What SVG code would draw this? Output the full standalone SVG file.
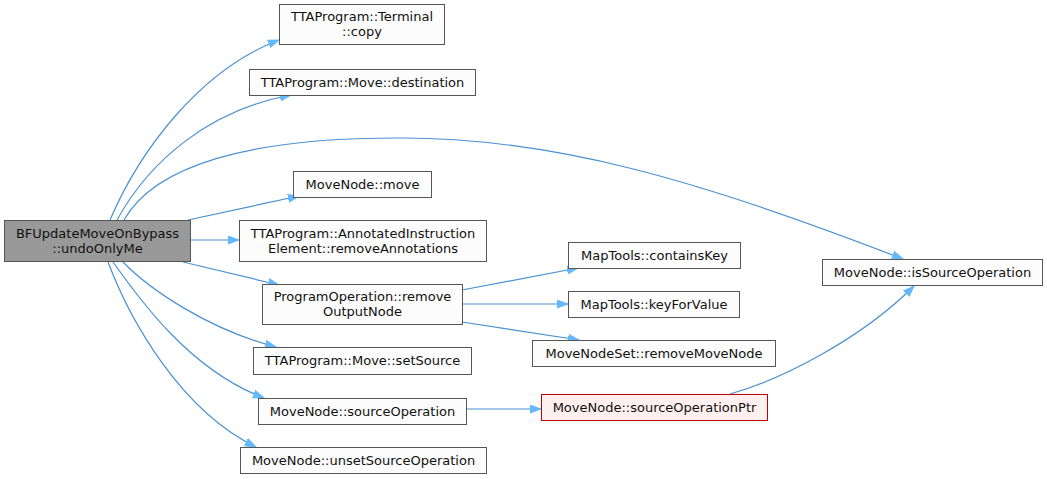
<svg xmlns="http://www.w3.org/2000/svg" width="1047" height="479" viewBox="0 0 1047 479">
<defs>
<style>
.n rect{fill:#fbfcfb;stroke:#555555;stroke-width:1}
.n text{font-family:"DejaVu Sans",sans-serif;font-size:13px;fill:#111111;text-anchor:middle}
#main rect{fill:#999999;stroke:#555555}
#ptr rect{fill:#fff0f0;stroke:#c00000}
.e path{fill:none;stroke:#4a90d2;stroke-width:1.2}
</style>
<marker id="ah" markerUnits="userSpaceOnUse" markerWidth="12" markerHeight="9" refX="11" refY="4.5" orient="auto">
<path d="M0,0.5 L11,4.5 L0,8.5 z" fill="#63b8ff" stroke="#63b8ff" stroke-width="1"/>
</marker>
</defs>
<rect width="1047" height="479" fill="#ffffff"/>
<g class="e">
<path marker-end="url(#ah)" d="M110,220 C140,150 200,70 279,40"/>
<path marker-end="url(#ah)" d="M117,220 C150,160 210,110 291,95"/>
<path marker-end="url(#ah)" d="M124,220 C155,165 250,138 397,138 C550,137 700,180 903,259"/>
<path marker-end="url(#ah)" d="M188,220 L299,196"/>
<path marker-end="url(#ah)" d="M190,240 L239,240"/>
<path marker-end="url(#ah)" d="M183,262 L279,285"/>
<path marker-end="url(#ah)" d="M123,262 C150,290 210,330 276,347"/>
<path marker-end="url(#ah)" d="M113,262 C140,300 190,370 264,398"/>
<path marker-end="url(#ah)" d="M108,262 C130,320 180,410 256,447"/>
<path marker-end="url(#ah)" d="M462,290 L578,268"/>
<path marker-end="url(#ah)" d="M462,304 L568,304"/>
<path marker-end="url(#ah)" d="M462,322 L579,340"/>
<path marker-end="url(#ah)" d="M466,409 L541,409"/>
<path marker-end="url(#ah)" d="M730,394 C780,380 860,340 914,286"/>
</g>
<g id="main" class="n"><rect x="4.5" y="220.5" width="186" height="41"/><text x="97.5" y="238">BFUpdateMoveOnBypass</text><text x="97.5" y="253">::undoOnlyMe</text></g>
<g id="copy" class="n"><rect x="279.5" y="4.5" width="165" height="40"/><text x="362" y="21">TTAProgram::Terminal</text><text x="362" y="36">::copy</text></g>
<g id="destination" class="n"><rect x="249.5" y="69.5" width="226" height="26"/><text x="362.5" y="87">TTAProgram::Move::destination</text></g>
<g id="isSource" class="n"><rect x="822.5" y="259.5" width="220" height="26"/><text x="932.5" y="277">MoveNode::isSourceOperation</text></g>
<g id="move" class="n"><rect x="293.5" y="171.5" width="138" height="26"/><text x="362.5" y="189">MoveNode::move</text></g>
<g id="annotated" class="n"><rect x="239.5" y="220.5" width="247" height="41"/><text x="363" y="238">TTAProgram::AnnotatedInstruction</text><text x="363" y="253">Element::removeAnnotations</text></g>
<g id="po" class="n"><rect x="262.5" y="284.5" width="200" height="40"/><text x="362.5" y="301">ProgramOperation::remove</text><text x="362.5" y="316">OutputNode</text></g>
<g id="setSource" class="n"><rect x="253.5" y="347.5" width="218" height="27"/><text x="362.5" y="365">TTAProgram::Move::setSource</text></g>
<g id="sourceOperation" class="n"><rect x="258.5" y="398.5" width="208" height="26"/><text x="362.5" y="416">MoveNode::sourceOperation</text></g>
<g id="unset" class="n"><rect x="240.5" y="447.5" width="246" height="26"/><text x="363.5" y="465">MoveNode::unsetSourceOperation</text></g>
<g id="containsKey" class="n"><rect x="568.5" y="242.5" width="172" height="26"/><text x="654.5" y="260">MapTools::containsKey</text></g>
<g id="keyForValue" class="n"><rect x="568.5" y="291.5" width="171" height="26"/><text x="654" y="309">MapTools::keyForValue</text></g>
<g id="removeMoveNode" class="n"><rect x="532.5" y="340.5" width="243" height="26"/><text x="654" y="358">MoveNodeSet::removeMoveNode</text></g>
<g id="ptr" class="n"><rect x="541.5" y="394.5" width="226" height="26"/><text x="654.5" y="412">MoveNode::sourceOperationPtr</text></g>
</svg>
